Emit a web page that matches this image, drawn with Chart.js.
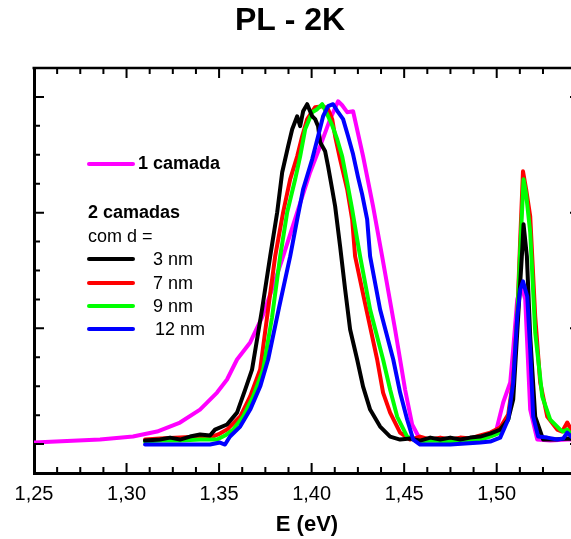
<!DOCTYPE html>
<html>
<head>
<meta charset="utf-8">
<script src="https://cdn.jsdelivr.net/npm/chart.js@4.4.1/dist/chart.umd.min.js"></script>
<style>
  html, body { margin: 0; padding: 0; background: #fff; overflow: hidden; }
  #wrap { width: 571px; height: 539px; overflow: hidden; position: relative; }
  canvas { display: block; }
</style>
</head>
<body>
<div id="wrap"><canvas id="c" width="614" height="539"></canvas></div>
<script>
// ---- chart text ----
const titleText = 'PL - 2K';
const xTitle = 'E (eV)';
const legendSingle = '1 camada';
const legendGroupTitle = '2 camadas';
const legendGroupSub = 'com d =';
const legendLabels = ['3 nm', '7 nm', '9 nm', '12 nm'];

// ---- axis ----
const xMin = 1.25, xMax = 1.545, xStep = 0.0125, xMajor = 0.05;
const yMin = -0.25, yMax = 3.25, yStep = 0.25;

// ---- series (energy in eV, PL intensity in arb. units) ----
const camada1E = [1.25,1.2857,1.3035,1.3165,1.3289,1.3397,1.3489,1.3543,1.3597,1.3668,1.3732,1.3786,1.3841,1.3884,1.3922,1.3992,1.4046,1.4100,1.4143,1.4165,1.4192,1.4224,1.4278,1.4332,1.4381,1.4451,1.4505,1.4543,1.4586,1.4749,1.4911,1.4992,1.5035,1.5073,1.5089,1.5111,1.5132,1.5154,1.5181,1.5219,1.5289,1.5381,1.545];
const camada1I = [0.013,0.039,0.065,0.108,0.186,0.298,0.445,0.558,0.731,0.878,1.094,1.337,1.596,1.812,2.003,2.349,2.574,2.808,2.963,2.928,2.868,2.876,2.487,2.055,1.622,0.990,0.471,0.169,0.039,0.039,0.048,0.082,0.359,0.532,0.817,1.250,1.380,1.250,0.298,0.039,0.030,0.039,0.039];

const d3E = [1.31,1.3181,1.3235,1.3289,1.3343,1.3397,1.3451,1.3478,1.3543,1.3597,1.3641,1.3678,1.3732,1.3776,1.3814,1.3841,1.3873,1.3895,1.3922,1.3938,1.3954,1.3976,1.4003,1.4019,1.4035,1.4046,1.4073,1.4089,1.4111,1.4127,1.4154,1.4181,1.4208,1.4246,1.4278,1.4316,1.4370,1.4424,1.4478,1.4532,1.4586,1.4641,1.4695,1.4749,1.4803,1.4857,1.4911,1.4965,1.5019,1.5062,1.5089,1.5116,1.5138,1.5145,1.5163,1.5181,1.5208,1.5251,1.5316,1.5381,1.545];
const d3I = [0.030,0.039,0.056,0.039,0.065,0.082,0.074,0.125,0.169,0.272,0.471,0.644,1.163,1.622,2.003,2.349,2.574,2.720,2.833,2.747,2.876,2.937,2.833,2.808,2.747,2.608,2.530,2.400,2.202,2.055,1.708,1.337,0.990,0.731,0.497,0.298,0.151,0.065,0.039,0.048,0.030,0.056,0.039,0.056,0.039,0.056,0.065,0.091,0.125,0.212,0.385,1.103,1.683,1.899,1.622,0.930,0.238,0.039,0.039,0.048,0.039];

const d7E = [1.31,1.3181,1.3289,1.3397,1.3451,1.3505,1.3543,1.3614,1.3668,1.3722,1.3759,1.3803,1.3846,1.3884,1.3922,1.3949,1.3976,1.4019,1.4062,1.4089,1.4111,1.4127,1.4154,1.4192,1.4219,1.4235,1.4289,1.4354,1.4386,1.4424,1.4478,1.4532,1.4586,1.4641,1.4695,1.4749,1.4803,1.4857,1.4911,1.4965,1.5019,1.5062,1.5089,1.5111,1.5127,1.5142,1.5159,1.5181,1.5208,1.5235,1.5273,1.5327,1.5354,1.5381,1.5408,1.545];
const d7I = [0.039,0.048,0.056,0.065,0.056,0.091,0.125,0.238,0.411,0.644,1.094,1.622,2.003,2.288,2.487,2.660,2.808,2.911,2.920,2.894,2.808,2.660,2.461,2.202,1.942,1.622,1.215,0.731,0.445,0.272,0.099,0.039,0.065,0.039,0.056,0.039,0.056,0.048,0.074,0.099,0.143,0.255,0.558,1.103,1.769,2.357,2.202,1.968,1.103,0.532,0.238,0.125,0.108,0.186,0.108,0.065];

const d9E = [1.31,1.3181,1.3289,1.3397,1.3489,1.3532,1.3576,1.3630,1.3684,1.3738,1.3786,1.3830,1.3868,1.3911,1.3938,1.3965,1.4003,1.4030,1.4057,1.4084,1.4111,1.4138,1.4165,1.4192,1.4219,1.4246,1.4262,1.4316,1.4386,1.4424,1.4462,1.4516,1.4570,1.4641,1.4749,1.4857,1.4911,1.4965,1.5019,1.5062,1.5089,1.5111,1.5127,1.5145,1.5159,1.5181,1.5208,1.5246,1.5289,1.5343,1.5359,1.5381,1.5408,1.545];
const d9I = [0.022,0.030,0.030,0.039,0.039,0.074,0.125,0.238,0.411,0.644,1.094,1.622,2.003,2.288,2.487,2.720,2.868,2.894,2.937,2.850,2.755,2.634,2.487,2.262,2.029,1.769,1.622,1.163,0.731,0.471,0.238,0.065,0.022,0.030,0.022,0.030,0.039,0.065,0.099,0.212,0.515,1.077,1.683,2.288,2.158,1.830,0.965,0.411,0.212,0.125,0.108,0.125,0.074,0.039];

const d12E = [1.31,1.3451,1.3505,1.3532,1.3559,1.3614,1.3668,1.3722,1.3765,1.3824,1.3884,1.3922,1.3954,1.4003,1.4035,1.4062,1.4089,1.4116,1.4143,1.4170,1.4197,1.4224,1.4251,1.4273,1.4300,1.4316,1.4370,1.4441,1.4478,1.4516,1.4549,1.4586,1.4749,1.4911,1.4965,1.5019,1.5062,1.5089,1.5111,1.5127,1.5142,1.5165,1.5181,1.5197,1.5224,1.5273,1.5327,1.5359,1.5381,1.5408,1.545];
const d12I = [-0.004,-0.004,0.013,-0.004,0.065,0.151,0.298,0.497,0.731,1.180,1.622,1.942,2.202,2.461,2.660,2.833,2.920,2.937,2.868,2.808,2.660,2.504,2.305,2.158,1.942,1.622,1.163,0.731,0.445,0.212,0.039,-0.004,-0.004,0.013,0.022,0.056,0.212,0.532,1.103,1.337,1.406,1.276,0.817,0.238,0.065,0.056,0.039,0.048,0.099,0.056,0.039];

const colMagenta = '#ff00ff', colBlack = '#000000', colRed = '#ff0000', colGreen = '#00ff00', colBlue = '#0000ff';

function pts(E, I) { return E.map((e, i) => ({ x: e, y: I[i] })); }
function ds(label, E, I, color, order) {
  return { label, data: pts(E, I), borderColor: color, backgroundColor: color,
           borderWidth: 4, pointRadius: 0, tension: 0, fill: false,
           borderJoinStyle: 'round', borderCapStyle: 'round', order };
}

Chart.defaults.font.family = "'Liberation Sans', Arial, Helvetica, sans-serif";
Chart.defaults.color = '#000';

const isMajor = (v, m) => Math.abs(v / m - Math.round(v / m)) < 1e-6;

const framePlugin = {
  id: 'frame',
  afterDraw(chart) {
    const { ctx, chartArea: a, scales: { x, y } } = chart;
    ctx.save();
    ctx.strokeStyle = '#000';
    // top and right frame lines
    ctx.lineWidth = 2.5;
    ctx.beginPath();
    ctx.moveTo(a.left - 1.5, a.top); ctx.lineTo(a.right, a.top);
    ctx.moveTo(a.right, a.top); ctx.lineTo(a.right, a.bottom);
    ctx.stroke();
    // inward ticks
    ctx.lineWidth = 2;
    ctx.beginPath();
    x.ticks.forEach(t => {
      const p = x.getPixelForValue(t.value);
      if (p <= a.left + 1 || p >= a.right - 1) return;
      const len = isMajor(t.value - xMin, xMajor) ? 10 : 6;
      ctx.moveTo(p, a.bottom); ctx.lineTo(p, a.bottom - len);
      ctx.moveTo(p, a.top); ctx.lineTo(p, a.top + len);
    });
    y.ticks.forEach(t => {
      const p = y.getPixelForValue(t.value);
      if (p <= a.top + 1 || p >= a.bottom - 1) return;
      const len = isMajor(t.value, 1) ? 10 : 6;
      ctx.moveTo(a.left, p); ctx.lineTo(a.left + len, p);
      ctx.moveTo(a.right, p); ctx.lineTo(a.right - len, p);
    });
    ctx.stroke();
    ctx.restore();
  }
};

const legendPlugin = {
  id: 'customLegend',
  afterDraw(chart) {
    const { ctx } = chart;
    const ds = chart.data.datasets;
    ctx.save();
    ctx.textBaseline = 'middle';
    ctx.textAlign = 'left';
    ctx.fillStyle = '#000';
    ctx.lineCap = 'round';
    ctx.lineWidth = 4;
    const x0 = 89, x1 = 133;
    // 1 camada
    ctx.strokeStyle = ds[0].borderColor;
    ctx.beginPath(); ctx.moveTo(x0, 164); ctx.lineTo(x1, 164); ctx.stroke();
    ctx.font = "bold 18px 'Liberation Sans', Arial, sans-serif";
    ctx.fillText(legendSingle, 138, 164);
    ctx.fillText(legendGroupTitle, 88, 213);
    ctx.font = "18px 'Liberation Sans', Arial, sans-serif";
    ctx.fillText(legendGroupSub, 88, 237);
    const ys = [259, 283, 306, 329];
    const tx = [153, 153, 153, 155];
    legendLabels.forEach((lab, i) => {
      ctx.strokeStyle = ds[i + 1].borderColor;
      ctx.beginPath(); ctx.moveTo(x0, ys[i]); ctx.lineTo(x1, ys[i]); ctx.stroke();
      ctx.fillText(lab, tx[i], ys[i] + 1);
    });
    ctx.restore();
  }
};

new Chart(document.getElementById('c'), {
  type: 'line',
  data: {
    datasets: [
      ds(legendSingle, camada1E, camada1I, colMagenta, 4),
      ds(legendLabels[0], d3E, d3I, colBlack, 1),
      ds(legendLabels[1], d7E, d7I, colRed, 3),
      ds(legendLabels[2], d9E, d9I, colGreen, 2),
      ds(legendLabels[3], d12E, d12I, colBlue, 0)
    ]
  },
  options: {
    responsive: false,
    animation: false,
    layout: { padding: { top: 0, right: 34, left: 0, bottom: 0 } },
    plugins: {
      legend: { display: false },
      tooltip: { enabled: false },
      title: {
        display: true, text: titleText, color: '#000',
        font: { size: 32, weight: 'bold' },
        padding: { top: 2, bottom: 27.6 }
      }
    },
    scales: {
      x: {
        type: 'linear', min: xMin, max: xMax,
        ticks: {
          stepSize: xStep, autoSkip: false, maxRotation: 0, minRotation: 0,
          padding: 9, font: { size: 20 }, color: '#000',
          callback: (v) => isMajor(v - xMin, xMajor) ? v.toFixed(2).replace('.', ',') : ''
        },
        grid: { drawOnChartArea: false, drawTicks: false },
        border: { color: '#000', width: 3 },
        title: { display: true, text: xTitle, color: '#000', font: { size: 22, weight: 'bold' }, padding: { top: 0, bottom: 1 } },
        afterFit: (s) => { s.height = 66; }
      },
      y: {
        min: yMin, max: yMax,
        ticks: { stepSize: yStep, display: false },
        grid: { drawOnChartArea: false, drawTicks: false },
        border: { color: '#000', width: 3 },
        afterFit: (s) => { s.width = 34; }
      }
    }
  },
  plugins: [framePlugin, legendPlugin]
});
</script>
</body>
</html>
